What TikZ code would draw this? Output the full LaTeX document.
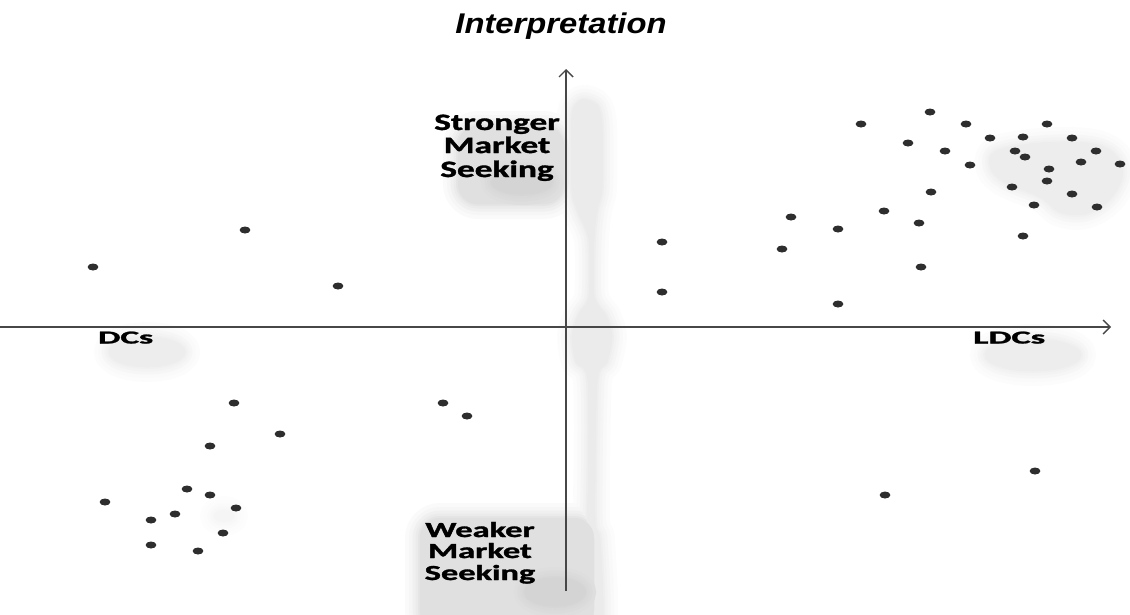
\documentclass[tikz,border=0pt]{standalone}
\usepackage{fontspec}
\setmainfont{Liberation Sans}
\newfontfamily\labfont{Carlito}[BoldFeatures={FakeBold=1.3}]
\usetikzlibrary{arrows.meta}

\begin{document}
\begin{tikzpicture}[x=1pt,y=-1pt,
  dot/.style={fill=black!82},
  axisline/.style={line width=1.8pt, draw=black!72,
    -{Straight Barb[length=7pt,width=14pt,line width=1.4pt]}},
  title/.style={anchor=base, inner sep=0pt,
    font=\fontsize{28.5}{28.5}\selectfont\bfseries\itshape},
  biglab/.style={anchor=base, inner sep=0pt,
    font=\labfont\fontsize{23.5}{23.5}\selectfont\bfseries},
  smalllab/.style={anchor=base, inner sep=0pt,
    font=\labfont\fontsize{21.5}{21.5}\selectfont\bfseries},
  axlab/.style={anchor=base west, inner sep=0pt,
    font=\labfont\fontsize{20}{20}\selectfont\bfseries},
]
\useasboundingbox (0,0) rectangle (1130,614);

% soft grey backgrounds, built up in layers so that the edges fade out
\foreach \f/\lw in {0.15/30,0.3/22,0.48/15,0.66/9,0.84/4,1/0.1}{
  \pgfmathsetmacro\da{\f*7}
  \pgfmathsetmacro\db{\f*12}
  \pgfmathsetmacro\dc{\f*8}
  \pgfmathsetmacro\dd{\f*4}
  \tikzset{layer/.style={line width=\lw pt, line join=round}}
  % cluster of the upper right
  \filldraw[layer, fill=black!\da, draw=black!\da]
    plot[smooth cycle, tension=0.6] coordinates {(992,154) (1015,146) (1060,142)
      (1098,145) (1118,158) (1122,178) (1108,201) (1085,214) (1060,212)
      (1040,197) (1008,184) (992,171)};
  % axis ends
  \filldraw[layer, fill=black!\da, draw=black!\da]
    (147,352) ellipse [x radius=38, y radius=15];
  \filldraw[layer, fill=black!\da, draw=black!\da]
    (1033,355) ellipse [x radius=48, y radius=16];
  \filldraw[layer, fill=black!\dd, draw=black!\dd]
    (224,516) ellipse [x radius=9, y radius=5];
  % band along the vertical axis
  \filldraw[layer, fill=black!\dc, draw=black!\dc]
    plot[smooth cycle, tension=0.45] coordinates {(582,100) (597,105) (602,125)
      (602,188) (597,210) (594,240) (594,296) (606,316) (612,336) (607,362)
      (597,382) (595,518) (600,540) (602,625) (575,625) (574,540) (587,518)
      (588,382) (576,362) (572,336) (579,314) (589,296) (589,240) (579,214)
      (572,190) (572,115)};
  % behind the two vertical labels
  \filldraw[layer, fill=black!\db, draw=black!\db, rounded corners=20pt]
    (458,126) rectangle (564,204);
  \filldraw[layer, fill=black!\db, draw=black!\db, rounded corners=20pt]
    (420,518) rectangle (594,630);
}
% slightly darker cores
\foreach \f/\lw in {0.2/22,0.4/15,0.6/9,0.8/4,1/0.1}{
  \pgfmathsetmacro\de{12+\f*5}
  \filldraw[line width=\lw pt, fill=black!\de, draw=black!\de]
    (522,182) ellipse [x radius=30, y radius=12];
  \filldraw[line width=\lw pt, fill=black!\de, draw=black!\de]
    (555,592) ellipse [x radius=30, y radius=14];
}

% axes
\coordinate (xfrom) at (0,327);
\coordinate (xto) at (1111,327);
\coordinate (yfrom) at (566,591);
\coordinate (yto) at (566,69);
\draw[axisline] (xfrom) -- (xto);
\draw[axisline] (yfrom) -- (yto);

% observations
\foreach \p in {(930,112),(861,124),(966,124),(1047,124),(908,143),(990,138),
  (1023,137),(1072,138),(945,151),(1015,151),(1025,157),(1096,151),(970,165),
  (1081,162),(1120,164),(1049,169),(1047,181),(1012,187),(931,192),(1072,194),
  (1034,205),(1097,207),(884,211),(791,217),(919,223),(838,229),(1023,236),
  (662,242),(782,249),(921,267),(662,292),(838,304),
  (245,230),(93,267),(338,286),
  (234,403),(280,434),(210,446),(187,489),(210,495),(105,502),(236,508),
  (175,514),(151,520),(223,533),(151,545),(198,551),(443,403),(467,416),
  (1035,471),(885,495)}
  \fill[dot] \p ellipse [x radius=5.4, y radius=3.5];

% texts
\node[title] (ttl) at (561,33) {\scalebox{1.15}[1]{Interpretation}};
\node[biglab] (s1) at (497,130) {\scalebox{1.5}[1]{Stronger}};
\node[biglab] (s2) at (497,153) {\scalebox{1.5}[1]{Market}};
\node[biglab] (s3) at (497,177) {\scalebox{1.5}[1]{Seeking}};
\node[smalllab] (w1) at (480,537) {\scalebox{1.6}[1]{Weaker}};
\node[smalllab] (w2) at (480,558) {\scalebox{1.6}[1]{Market}};
\node[smalllab] (w3) at (480,580) {\scalebox{1.6}[1]{Seeking}};
\node[axlab] (dcs) at (98,343.5) {\resizebox{55pt}{12pt}{DCs}};
\node[axlab] (ldcs) at (973,343.5) {\resizebox{72pt}{12pt}{LDCs}};
\end{tikzpicture}
\end{document}
